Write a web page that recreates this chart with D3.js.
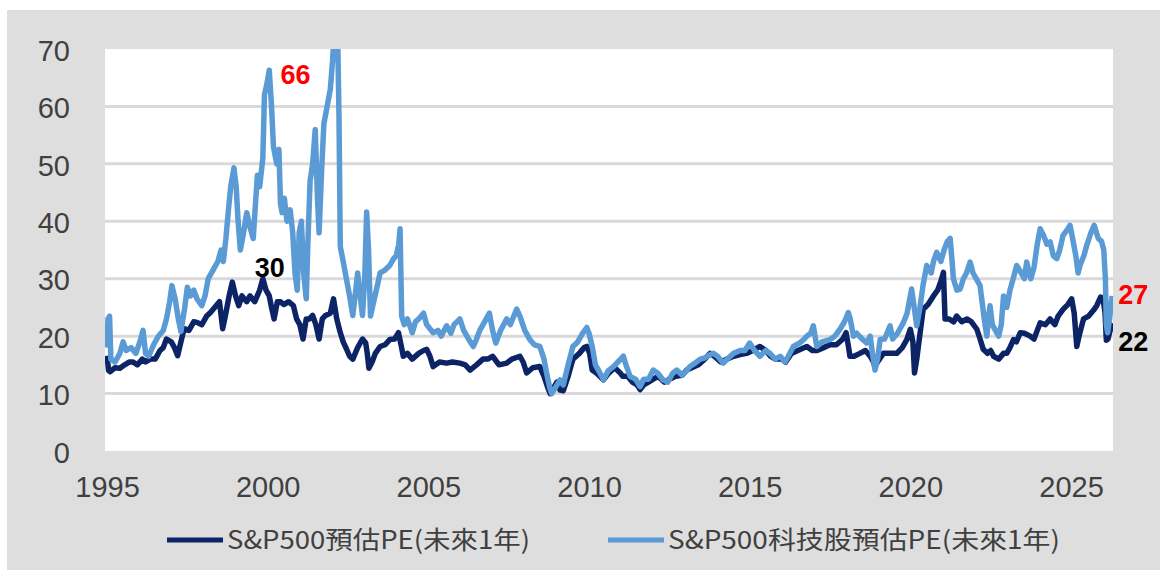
<!DOCTYPE html>
<meta charset="utf-8">
<style>
body { margin: 0; background: #fff; }
.axis text { font-family: "Liberation Sans Narrow", "Arial Narrow", "Liberation Sans", sans-serif; font-size: 29px; fill: #404040; }
.grid line { stroke: #d9d9d9; stroke-width: 3px; }
.line { fill: none; stroke-width: 5.5px; stroke-linejoin: round; }
.legend text { font-family: "Noto Sans CJK TC", sans-serif; font-size: 25px; fill: #404040; }
.note { font-family: "Liberation Sans", sans-serif; font-weight: bold; font-size: 27px; }
</style>
<svg width="1160" height="570"></svg>
<script src="https://cdn.jsdelivr.net/npm/d3@7"></script>
<script>
// [decimal year, forward PE]
var spxPE = [
  [1995.0,16.6],[1995.05,14],[1995.1,13.8],[1995.25,14.5],[1995.4,14.4],[1995.55,15],[1995.7,15.5],[1995.8,15.5],[1995.95,15],
  [1996.1,16],[1996.2,15.5],[1996.35,16],[1996.5,16],[1996.65,17.5],[1996.75,18],[1996.85,19.5],[1997.0,19],[1997.1,18],
  [1997.2,16.6],[1997.3,19],[1997.4,21.3],[1997.55,21],[1997.7,22.5],[1997.8,22.4],[1997.95,22],[1998.1,23.5],[1998.2,24],
  [1998.35,25],[1998.5,26],[1998.6,21.3],[1998.7,24],[1998.8,27],[1998.9,29.4],[1999.0,27],[1999.1,25.3],[1999.2,27],
  [1999.35,26],[1999.45,27],[1999.6,26],[1999.75,28],[1999.85,30],[1999.95,28],[2000.05,27],[2000.12,25],[2000.2,23],
  [2000.3,26],[2000.4,26],[2000.5,25.5],[2000.65,26],[2000.8,25.3],[2000.9,23],[2001.0,22],[2001.1,19.5],[2001.2,23],
  [2001.3,23],[2001.4,23.6],[2001.5,22],[2001.6,19.5],[2001.7,23],[2001.8,23.6],[2001.95,24],[2002.05,26.5],[2002.15,23],
  [2002.25,20.8],[2002.35,19],[2002.45,17.8],[2002.55,16.5],[2002.65,16],[2002.8,18],[2002.95,19.5],[2003.05,18.8],
  [2003.1,17],[2003.15,14.4],[2003.25,15.5],[2003.35,17],[2003.5,18.2],[2003.65,18.5],[2003.8,19.4],[2003.95,19.5],
  [2004.07,20.6],[2004.15,18.5],[2004.22,16.5],[2004.35,17],[2004.5,16],[2004.7,17],[2004.85,17.5],[2004.95,17.7],
  [2005.05,16.5],[2005.15,14.7],[2005.35,15.5],[2005.57,15.3],[2005.75,15.5],[2005.98,15.3],[2006.15,15],[2006.3,14.1],
  [2006.5,15],[2006.7,16],[2006.85,16],[2007.0,16.5],[2007.2,15],[2007.44,15.3],[2007.6,16],[2007.85,16.5],[2007.95,15.5],
  [2008.06,13.6],[2008.25,14.5],[2008.47,14.7],[2008.6,13],[2008.72,11],[2008.79,10],[2008.9,11],[2009.0,12],[2009.1,10.6],
  [2009.2,10.5],[2009.35,13],[2009.5,16],[2009.7,17],[2009.85,18],[2009.93,18.2],[2010.02,17],[2010.1,14.1],[2010.25,13.5],
  [2010.45,12.4],[2010.6,13.5],[2010.8,14.5],[2010.97,13.6],[2011.05,13],[2011.2,13],[2011.35,12],[2011.5,11.5],
  [2011.59,10.7],[2011.7,11.5],[2011.85,12],[2012.0,12.5],[2012.15,13],[2012.35,12],[2012.5,12.5],[2012.7,13],[2012.9,13.2],
  [2013.04,14.1],[2013.2,14.5],[2013.4,15],[2013.6,16],[2013.77,17],[2013.9,16.5],[2014.1,15.5],[2014.3,16],[2014.5,16.5],
  [2014.7,16.8],[2014.9,17],[2015.1,17.5],[2015.32,18.2],[2015.5,17.5],[2015.65,16.5],[2015.8,16],[2016.0,16],[2016.12,15.5],
  [2016.3,17],[2016.5,17.5],[2016.78,18.2],[2016.95,17.5],[2017.1,17.5],[2017.3,18],[2017.5,18.5],[2017.7,18.5],[2017.9,19.5],
  [2018.0,20.6],[2018.08,18],[2018.12,16.5],[2018.25,16.5],[2018.43,17],[2018.6,17.5],[2018.75,16.5],[2018.85,15.5],
  [2018.9,14.7],[2018.98,15.5],[2019.16,17],[2019.35,17],[2019.58,17],[2019.75,18],[2019.89,19.4],[2020.0,21.2],[2020.08,19],
  [2020.13,13.6],[2020.2,16],[2020.25,18.2],[2020.4,24.7],[2020.55,25.5],[2020.72,27],[2020.85,28],[2020.95,29.5],
  [2021.03,31.1],[2021.08,23],[2021.2,23],[2021.35,22.5],[2021.44,23.5],[2021.6,22.5],[2021.76,23],[2021.9,22.5],
  [2022.07,21.2],[2022.17,19.5],[2022.27,17.7],[2022.4,17],[2022.5,17.5],[2022.59,16.5],[2022.75,16],[2022.9,17],[2023.0,17],
  [2023.1,18],[2023.21,19.4],[2023.3,19],[2023.42,20.6],[2023.55,20.5],[2023.73,20],[2023.85,19.5],[2023.95,21],[2024.04,22.3],
  [2024.2,22],[2024.35,23],[2024.5,22],[2024.6,23.5],[2024.76,24.7],[2024.9,25.5],[2025.02,26.5],[2025.1,24],[2025.18,18.2],
  [2025.25,20],[2025.39,23],[2025.55,23.5],[2025.7,24.5],[2025.8,25.3],[2025.92,26.8],[2026.0,26.5],[2026.06,24],
  [2026.1,19.3],[2026.15,19.5],[2026.22,21],[2026.28,22.3]
];

var techPE = [
  [1995.0,18],[1995.03,23],[1995.08,23.5],[1995.12,16],[1995.25,15.5],[1995.4,17],[1995.5,19],[1995.6,17.5],[1995.75,18],
  [1995.9,17],[1996.05,19.5],[1996.12,21],[1996.2,17],[1996.3,16.5],[1996.45,18.5],[1996.6,20],[1996.75,21],[1996.85,23],
  [1996.95,26],[1997.02,28.8],[1997.12,26.5],[1997.22,23],[1997.3,20.8],[1997.42,25],[1997.5,28.5],[1997.6,27],[1997.7,28],
  [1997.8,26.5],[1997.95,25.3],[1998.05,27],[1998.15,30],[1998.3,31.5],[1998.45,33],[1998.55,35],[1998.62,33],[1998.7,37],
  [1998.78,42],[1998.85,46],[1998.95,49.3],[1999.02,46],[1999.08,40],[1999.15,35],[1999.25,38],[1999.35,41.5],[1999.45,39],
  [1999.55,37],[1999.62,43],[1999.68,48],[1999.75,46],[1999.85,51],[1999.9,62],[1999.98,64],[2000.05,66.3],[2000.12,60],
  [2000.18,53],[2000.28,50],[2000.35,52.5],[2000.4,43],[2000.45,41.5],[2000.52,44],[2000.6,40],[2000.7,42],[2000.78,38],
  [2000.85,31],[2000.92,28],[2000.98,38],[2001.05,40],[2001.12,31],[2001.2,26.5],[2001.25,36],[2001.32,47],[2001.4,50],
  [2001.48,56],[2001.55,44],[2001.6,38],[2001.68,49],[2001.75,57],[2001.85,60],[2001.95,63],[2002.02,68],[2002.08,74],
  [2002.18,72],[2002.22,58],[2002.26,35.6],[2002.35,33],[2002.45,30],[2002.55,27],[2002.65,23.6],[2002.72,27],[2002.8,31],
  [2002.88,27],[2002.95,23.6],[2003.02,30],[2003.08,41.6],[2003.14,35],[2003.2,23.5],[2003.3,26],[2003.4,28.5],[2003.5,31],
  [2003.65,31.5],[2003.8,32.3],[2003.92,33.5],[2004.0,34],[2004.08,36],[2004.12,38.7],[2004.17,23.5],[2004.25,22],
  [2004.35,23],[2004.5,20.6],[2004.6,22.5],[2004.7,23],[2004.85,24],[2004.95,22],[2005.15,20.6],[2005.3,21],[2005.4,20],
  [2005.57,21.8],[2005.7,20.5],[2005.8,22],[2005.98,23],[2006.1,21],[2006.25,19.5],[2006.4,18.2],[2006.5,19.5],[2006.6,21],
  [2006.75,22.5],[2006.9,24],[2007.0,21],[2007.1,18.8],[2007.25,21],[2007.44,23],[2007.55,22],[2007.75,24.7],[2007.85,23.5],
  [2008.0,21],[2008.16,19.4],[2008.3,18.5],[2008.47,18.2],[2008.6,16],[2008.68,13.6],[2008.78,11],[2008.84,10],[2008.95,11],
  [2009.1,12.4],[2009.2,11.5],[2009.35,15],[2009.5,18.2],[2009.65,19],[2009.8,20.5],[2009.93,21.5],[2010.0,20.5],[2010.1,18.2],
  [2010.2,15],[2010.34,13.6],[2010.45,12.4],[2010.6,14],[2010.76,14.7],[2010.9,15.5],[2011.07,16.5],[2011.15,15],[2011.28,13],
  [2011.45,12.5],[2011.59,11.2],[2011.7,12.5],[2011.85,12.5],[2012.0,14.1],[2012.15,13.5],[2012.3,12.4],[2012.45,12],
  [2012.6,13.5],[2012.73,14.1],[2012.9,13.2],[2013.04,14],[2013.14,14.7],[2013.3,15.3],[2013.46,16],[2013.6,16.2],
  [2013.77,16.8],[2013.87,17],[2014.0,16.5],[2014.18,15.3],[2014.3,16],[2014.5,17],[2014.7,17.5],[2014.85,17.5],[2015.0,18.8],
  [2015.15,17.5],[2015.32,16.5],[2015.5,17.5],[2015.63,17],[2015.8,16],[2015.95,16.5],[2016.1,15.5],[2016.2,16.5],
  [2016.36,18.2],[2016.55,18.8],[2016.7,19.5],[2016.78,20],[2016.9,20.5],[2016.98,21.8],[2017.09,18.2],[2017.25,19],
  [2017.5,19.4],[2017.65,20],[2017.81,21.2],[2017.95,22.5],[2018.07,24.1],[2018.13,23],[2018.23,20],[2018.33,20.5],
  [2018.5,19.5],[2018.64,18.8],[2018.75,20],[2018.82,17],[2018.9,14.1],[2018.98,16],[2019.06,19.4],[2019.2,19.5],
  [2019.37,21.8],[2019.45,19.5],[2019.6,20.5],[2019.78,22.3],[2019.9,24],[2020.04,28.2],[2020.12,25],[2020.2,21.8],
  [2020.3,25],[2020.4,29],[2020.51,32.3],[2020.65,31],[2020.72,33],[2020.82,34.6],[2020.95,33],[2021.05,35],[2021.15,36.5],
  [2021.24,37],[2021.3,33],[2021.34,30],[2021.45,28],[2021.55,28.2],[2021.65,30],[2021.75,31],[2021.86,32.9],[2021.95,31],
  [2022.05,30],[2022.17,28.8],[2022.3,23],[2022.38,20],[2022.43,23],[2022.48,25.3],[2022.55,22],[2022.65,21],[2022.75,20],
  [2022.83,22],[2022.9,27],[2023.0,25],[2023.1,28],[2023.2,30],[2023.31,32.3],[2023.45,31],[2023.55,30],[2023.62,32.9],
  [2023.75,30],[2023.85,32],[2023.95,36],[2024.04,38.7],[2024.15,37.5],[2024.25,36],[2024.35,36.4],[2024.45,34],
  [2024.56,33.5],[2024.65,35],[2024.75,37.5],[2024.88,38.5],[2024.97,39.3],[2025.05,37],[2025.15,34],[2025.22,31],
  [2025.28,32.3],[2025.4,34],[2025.5,36],[2025.62,38],[2025.72,39.3],[2025.85,37],[2025.95,36.5],[2026.02,35],
  [2026.07,30],[2026.1,22],[2026.14,20.6],[2026.2,23],[2026.28,27]
];

var xTicks = [1995, 2000, 2005, 2010, 2015, 2020, 2025];
var yTicks = [0, 10, 20, 30, 40, 50, 60, 70];
var seriesNames = ["S&P500預估PE(未來1年)", "S&P500科技股預估PE(未來1年)"];
// callouts: label, year, value
var notes = [
  ["66", 2000.4, 65.5],
  ["30", 1999.6, 32],
  ["27", 2026.47, 27.2],
  ["22", 2026.47, 19]
];

var colors = ["#0c2366", "#5b9bd5"];
var noteColors = ["#ff0000", "#000000", "#ff0000", "#000000"];

var svg = d3.select("svg");

var x = d3.scaleLinear().domain([1995, 2025]).range([107, 1071]);
var y = d3.scaleLinear().domain([0, 70]).range([451, 49]);

// frame + plot area
svg.append("rect").attr("x", 7).attr("y", 10).attr("width", 1153).attr("height", 560).attr("fill", "#dedede");
svg.append("rect").attr("x", 105).attr("y", y(70)).attr("width", 1008).attr("height", y(0) - y(70)).attr("fill", "#fff");

svg.append("clipPath").attr("id", "clip")
  .append("rect").attr("x", 105).attr("y", y(70)).attr("width", 1008).attr("height", y(0) - y(70));

svg.append("g").attr("class", "grid")
  .selectAll("line")
  .data(yTicks.filter(function(d) { return d > 0 && d < 70; }))
  .enter().append("line")
  .attr("x1", 105).attr("x2", 1113)
  .attr("y1", function(d) { return y(d); })
  .attr("y2", function(d) { return y(d); });

var xAxis = svg.append("g").attr("class", "axis")
  .attr("transform", "translate(0,487)")
  .call(d3.axisBottom(x).tickValues(xTicks).tickSize(0).tickFormat(d3.format("d")));
xAxis.select(".domain").remove();
xAxis.selectAll("text").attr("y", 0).attr("dy", "0.35em");

var yAxis = svg.append("g").attr("class", "axis")
  .attr("transform", "translate(70,2)")
  .call(d3.axisLeft(y).tickValues(yTicks).tickSize(0).tickPadding(0));
yAxis.select(".domain").remove();

var line = d3.line()
  .x(function(d) { return x(d[0]); })
  .y(function(d) { return y(d[1]); });

var lines = svg.append("g").attr("clip-path", "url(#clip)");
[spxPE, techPE].forEach(function(s, i) {
  lines.append("path")
    .datum(s)
    .attr("class", "line")
    .attr("stroke", colors[i])
    .attr("d", line);
});

svg.selectAll(".note")
  .data(notes)
  .enter().append("text")
  .attr("class", "note")
  .attr("x", function(d) { return x(d[1]); })
  .attr("y", function(d) { return y(d[2]); })
  .attr("dy", "0.35em")
  .attr("fill", function(d, i) { return noteColors[i]; })
  .text(function(d) { return d[0]; });

// legend
var legendX = [167, 608];
var legendW = [303, 392];
var legend = svg.append("g").attr("class", "legend");
seriesNames.forEach(function(name, i) {
  legend.append("line")
    .attr("x1", legendX[i]).attr("x2", legendX[i] + 56)
    .attr("y1", 540).attr("y2", 540)
    .attr("stroke", colors[i]).attr("stroke-width", 5);
  legend.append("text")
    .attr("x", legendX[i] + 60)
    .attr("y", 549)
    .attr("textLength", legendW[i])
    .attr("lengthAdjust", "spacingAndGlyphs")
    .text(name);
});
</script>
